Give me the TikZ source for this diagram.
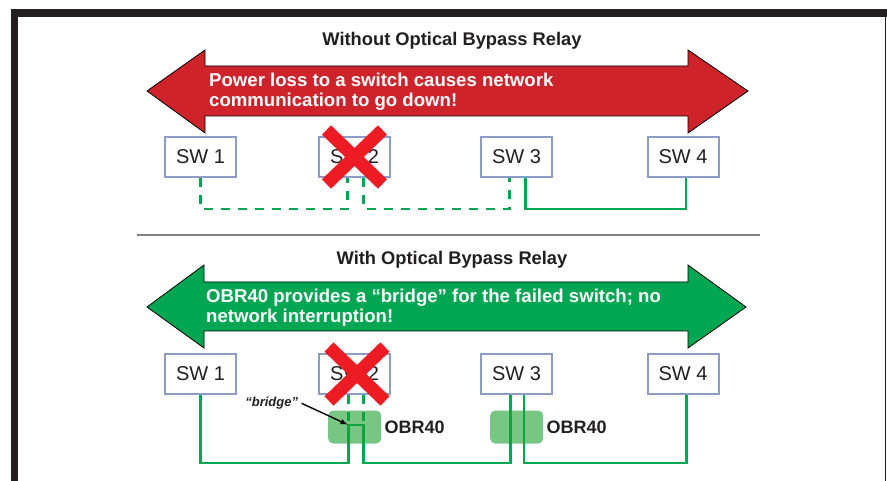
\documentclass[tikz,border=0pt]{standalone}
\usepackage{fontspec}
\setmainfont{Liberation Sans}
\usepackage{xcolor}
\usepackage{tikz}

\definecolor{inkblack}{RGB}{35,31,32}
\definecolor{alarmred}{RGB}{206,35,43}
\definecolor{okgreen}{RGB}{0,166,81}
\definecolor{crossred}{RGB}{237,28,36}
\definecolor{boxblue}{RGB}{140,155,200}
\definecolor{obrgreen}{RGB}{30,160,50}

\tikzset{
  sw/.style={draw=boxblue, line width=2pt, fill=white, minimum width=71pt, minimum height=40pt, inner sep=0pt, text=inkblack, font=\fontsize{20}{24}\selectfont},
  link/.style={draw=okgreen, line width=2.5pt},
  gap/.style={link, dash pattern=on 9pt off 8pt},
  cross/.style={draw=crossred, line width=13pt},
  obr/.style={fill=obrgreen, fill opacity=0.6, rounded corners=5pt, minimum width=53pt, minimum height=33pt, inner sep=0pt},
  obrtag/.style={anchor=west, inner sep=3pt, text=inkblack, font=\fontsize{18}{20}\selectfont\bfseries},
  head/.style={text=inkblack, inner sep=0pt, font=\fontsize{18.3}{20}\selectfont\bfseries},
  msg/.style={anchor=west, align=left, text=white, inner sep=0pt, font=\fontsize{18.6}{20}\selectfont\bfseries},
  bigarrow/.style={draw=black, line width=0.8pt}
}

\begin{document}
\begin{tikzpicture}[x=1pt,y=-1pt]
	\useasboundingbox (0,0) rectangle (887,481);
	% frame
	\fill[inkblack] (11,9) rectangle (887,17);
	\fill[inkblack] (11,9) rectangle (18,481);
	\draw[inkblack, line width=1.5pt] (885.5,9) -- (885.5,481);
	\draw[gray, line width=1.5pt] (137,235) -- (760,235);

	% without relay
	\node[head] at (452,41) (h1) {Without Optical Bypass Relay};
	\draw[bigarrow, fill=alarmred] (147,91) -- (205,50) -- (205,66) -- (688,66) -- (688,50) -- (748,91)
		-- (688,133) -- (688,116) -- (205,116) -- (205,133) -- cycle;
	\node[msg] at (209,91.5) (m1) {Power loss to a switch causes network\\communication to go down!};

	\node[sw] at (200.5,157) (a1) {SW 1};
	\node[sw] at (354.5,157) (a2) {SW 2};
	\node[sw] at (516.5,157) (a3) {SW 3};
	\node[sw] at (683,157) (a4) {SW 4};
	\draw[gap] (a1.south) -- ++(0,31) -| ([xshift=-7pt]a2.south);
	\draw[gap] ([xshift=9pt]a2.south) -- ++(0,31) -| ([xshift=-7pt]a3.south);
	\draw[link] ([xshift=9pt]a3.south) -- ++(0,31) -| ([xshift=3pt]a4.south);
	\draw[cross] ([shift={(-28,-27)}]a2.center) -- ([shift={(28,27)}]a2.center);
	\draw[cross] ([shift={(-28,27)}]a2.center) -- ([shift={(28,-27)}]a2.center);

	% with relay
	\node[head] at (452,260) (h2) {With Optical Bypass Relay};
	\draw[bigarrow, fill=okgreen] (147,307) -- (204,265) -- (204,282) -- (688,282) -- (688,265) -- (746,307)
		-- (688,348) -- (688,331) -- (204,331) -- (204,348) -- cycle;
	\node[msg] at (206,308) (m2) {OBR40 provides a “bridge” for the failed switch; no\\network interruption!};

	\node[sw] at (200.5,374) (b1) {SW 1};
	\node[sw] at (354.5,374) (b2) {SW 2};
	\node[sw] at (516.5,374) (b3) {SW 3};
	\node[sw] at (683,374) (b4) {SW 4};
	\coordinate (k) at ([xshift=-6pt,yshift=-30pt]b2.south);
	\draw[link] (b1.south) -- ++(0,68) -| (k) -- ++(15,0) -- ++(0,38) -| ([xshift=-6pt]b3.south);
	\draw[link] ([xshift=7.5pt]b3.south) -- ++(0,68) -| ([xshift=3.5pt]b4.south);
	\draw[gap] ([xshift=-6pt]b2.south) -- (k);
	\draw[gap] ([xshift=9pt]b2.south) -- ++(0,30);
	\draw[cross] ([shift={(-25.5,-27)}]b2.center) -- ([shift={(30.5,27)}]b2.center);
	\draw[cross] ([shift={(-25.5,27)}]b2.center) -- ([shift={(30.5,-27)}]b2.center);

	\node[obr] at (354.7,427) (o1) {};
	\node[obr] at (516.7,427) (o2) {};
	\node[obrtag] at (o1.east) (l1) {OBR40};
	\node[obrtag] at (o2.east) (l2) {OBR40};

	\node[text=inkblack, font=\fontsize{13}{15}\selectfont\bfseries\itshape] at (271.7,403.3) (br) {“bridge”};
	\draw[-latex, line width=1.4pt, shorten >=1pt] (br.east) -- (k);
\end{tikzpicture}
\end{document}
